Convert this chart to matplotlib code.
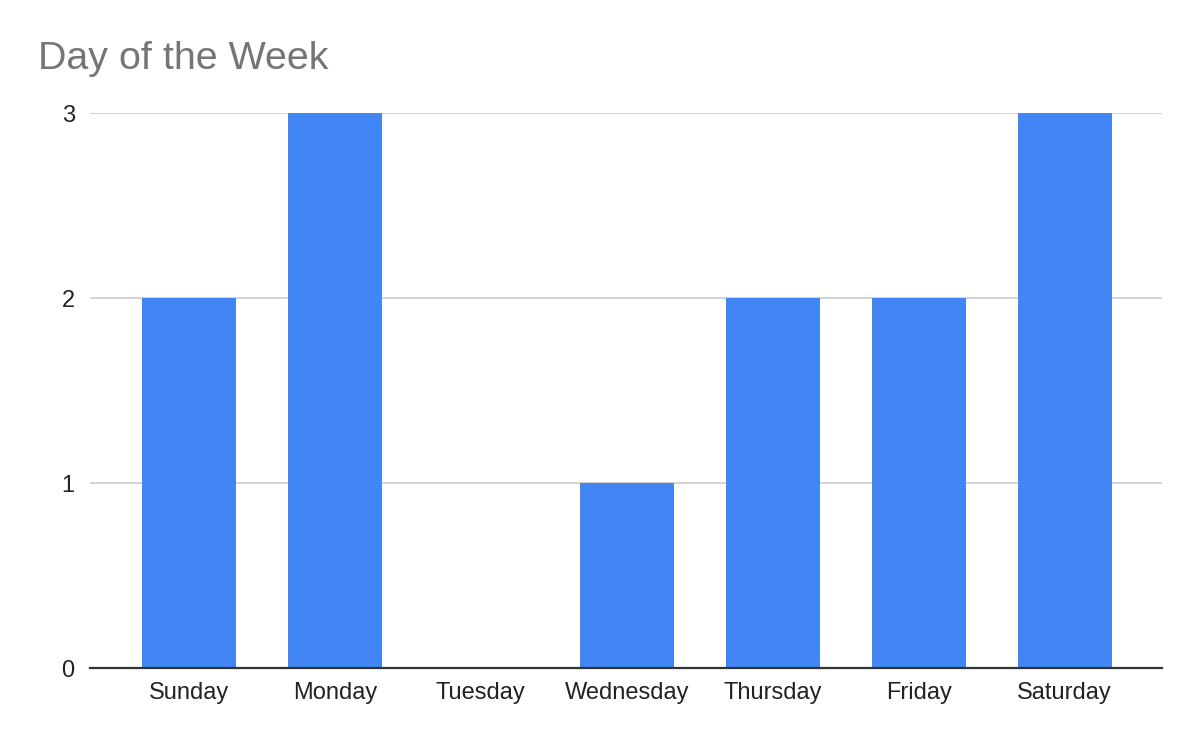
import matplotlib
matplotlib.use("Agg")
import matplotlib.pyplot as plt

days = ["Sunday", "Monday", "Tuesday", "Wednesday", "Thursday", "Friday", "Saturday"]
counts = [2, 3, 0, 1, 2, 2, 3]
yticks = [0, 1, 2, 3]

plt.rcParams['font.family'] = ['Liberation Sans', 'DejaVu Sans']

fig = plt.figure(figsize=(12, 7.42), dpi=100)
ax = fig.add_axes([0.075, 0.0997, 0.893, 0.748])

ax.bar(range(len(days)), counts, width=0.644, color="#4285F4", zorder=3, clip_on=False)

ax.set_xlim(-0.678, 6.664)
ax.set_ylim(0, 3)
ax.set_yticks(yticks)
ax.set_xticks(range(len(days)))
ax.set_xticklabels(days)
ax.tick_params(axis="both", length=0, labelsize=17, colors="#222222")
ax.tick_params(axis="x", pad=10)
ax.tick_params(axis="y", pad=11)

ax.grid(axis="y", color="#cccccc", linewidth=1.2, zorder=0)
for s in ["top", "right", "left"]:
    ax.spines[s].set_visible(False)
ax.spines["bottom"].set_color("#333333")
ax.spines["bottom"].set_linewidth(1.6)
ax.spines["bottom"].set_zorder(4)

fig.text(38 / 1200, 1 - 69 / 742, "Day of the Week", fontsize=28.4, color="#757575",
         ha="left", va="baseline")

fig.savefig("out.png", dpi=100)
